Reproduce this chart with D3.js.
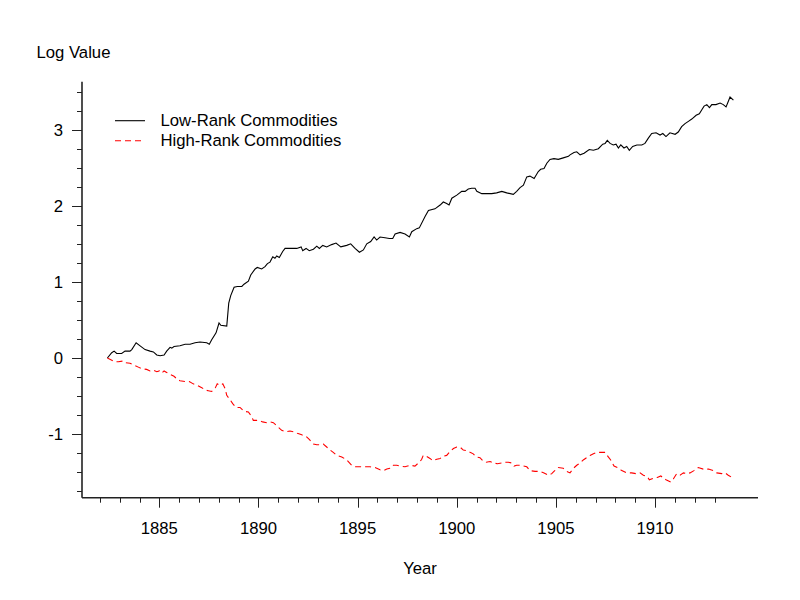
<!DOCTYPE html>
<html>
  <head>
    <meta charset="utf-8">
    <title>Low vs High rank commodities</title>
    <script src="https://d3js.org/d3.v7.min.js"></script>
    <style>
      body { margin: 0; background: #fff; }
      text { font-family: "Liberation Sans", Arial, sans-serif; font-size: 16.7px; fill: #000; }
    </style>
  </head>
  <body>
    <div id="chart"></div>

    <script type="text/javascript">
      // values (decimal year, log value)
      var lowYears = [1882.38,1882.60,1882.72,1882.85,1883.10,1883.27,1883.52,1883.61,1883.83,1884.03,1884.28,1884.53,1884.70,1884.87,1885.04,1885.24,1885.37,1885.54,1885.63,1885.74,1886.04,1886.30,1886.55,1886.80,1887.05,1887.39,1887.52,1887.64,1887.86,1888.01,1888.10,1888.40,1888.50,1888.60,1888.77,1888.93,1889.16,1889.27,1889.49,1889.61,1889.83,1889.94,1890.16,1890.33,1890.45,1890.58,1890.72,1890.83,1890.92,1891.05,1891.22,1891.34,1891.59,1891.93,1892.15,1892.23,1892.40,1892.56,1892.77,1892.94,1893.07,1893.24,1893.44,1893.69,1893.91,1894.15,1894.45,1894.65,1894.87,1895.09,1895.29,1895.46,1895.66,1895.83,1895.96,1896.13,1896.38,1896.60,1896.77,1896.89,1897.14,1897.39,1897.61,1897.73,1897.98,1898.11,1898.40,1898.57,1898.90,1899.16,1899.32,1899.49,1899.61,1899.75,1900.00,1900.25,1900.42,1900.58,1900.75,1900.92,1901.01,1901.26,1901.51,1901.76,1902.01,1902.27,1902.52,1902.85,1903.02,1903.19,1903.36,1903.53,1903.69,1903.90,1904.11,1904.23,1904.40,1904.54,1904.70,1904.90,1905.12,1905.37,1905.63,1905.71,1905.91,1906.05,1906.22,1906.42,1906.68,1906.89,1907.14,1907.36,1907.48,1907.59,1907.73,1907.89,1908.03,1908.15,1908.27,1908.43,1908.57,1908.70,1908.87,1909.08,1909.33,1909.49,1909.66,1909.83,1910.05,1910.25,1910.39,1910.55,1910.75,1911.01,1911.17,1911.34,1911.51,1911.68,1911.85,1912.07,1912.23,1912.35,1912.47,1912.61,1912.74,1912.86,1913.07,1913.28,1913.44,1913.58,1913.69,1913.78,1913.95];
      var lowValues = [0.00,0.07,0.09,0.06,0.06,0.09,0.09,0.11,0.20,0.16,0.11,0.09,0.08,0.04,0.03,0.04,0.09,0.14,0.13,0.15,0.16,0.18,0.18,0.20,0.21,0.20,0.18,0.24,0.33,0.46,0.43,0.42,0.72,0.82,0.93,0.94,0.94,0.97,1.01,1.09,1.17,1.19,1.17,1.20,1.24,1.26,1.33,1.31,1.34,1.32,1.40,1.44,1.44,1.44,1.46,1.41,1.44,1.41,1.43,1.47,1.44,1.48,1.46,1.49,1.51,1.46,1.48,1.50,1.44,1.39,1.42,1.50,1.53,1.59,1.55,1.59,1.58,1.57,1.57,1.63,1.65,1.63,1.59,1.66,1.70,1.71,1.86,1.94,1.96,2.01,2.05,2.03,2.01,2.10,2.14,2.19,2.19,2.22,2.23,2.23,2.19,2.16,2.16,2.16,2.17,2.19,2.17,2.15,2.19,2.24,2.27,2.38,2.39,2.36,2.45,2.48,2.49,2.56,2.61,2.62,2.61,2.63,2.65,2.67,2.70,2.71,2.67,2.69,2.74,2.73,2.75,2.81,2.82,2.86,2.82,2.80,2.81,2.76,2.80,2.76,2.78,2.73,2.78,2.80,2.80,2.82,2.89,2.95,2.96,2.93,2.95,2.91,2.96,2.94,2.97,3.04,3.08,3.11,3.14,3.19,3.21,3.26,3.31,3.33,3.29,3.33,3.33,3.35,3.33,3.30,3.37,3.43,3.39];

      var highYears = [1882.38,1882.77,1882.93,1883.18,1883.27,1883.52,1883.69,1883.94,1884.11,1884.36,1884.53,1884.70,1884.87,1885.00,1885.12,1885.24,1885.37,1885.57,1885.74,1885.91,1886.04,1886.30,1886.51,1886.71,1886.92,1887.14,1887.30,1887.47,1887.64,1887.81,1887.92,1888.06,1888.20,1888.31,1888.40,1888.57,1888.70,1888.87,1889.07,1889.27,1889.49,1889.66,1889.74,1889.99,1890.21,1890.42,1890.58,1890.75,1890.92,1891.17,1891.39,1891.59,1891.76,1891.96,1892.18,1892.40,1892.56,1892.77,1892.94,1893.10,1893.27,1893.44,1893.61,1893.77,1893.95,1894.20,1894.45,1894.70,1894.87,1895.12,1895.37,1895.63,1895.88,1896.13,1896.30,1896.47,1896.63,1896.80,1896.97,1897.14,1897.39,1897.64,1897.89,1898.15,1898.23,1898.31,1898.45,1898.65,1898.79,1898.99,1899.16,1899.32,1899.49,1899.66,1899.83,1900.00,1900.16,1900.33,1900.53,1900.67,1900.83,1900.97,1901.17,1901.31,1901.48,1901.68,1901.84,1902.05,1902.27,1902.43,1902.60,1902.77,1902.89,1903.02,1903.19,1903.36,1903.53,1903.69,1903.95,1904.20,1904.40,1904.62,1904.79,1904.90,1905.12,1905.37,1905.55,1905.71,1905.88,1906.05,1906.22,1906.38,1906.55,1906.72,1906.89,1907.06,1907.22,1907.48,1907.64,1907.76,1907.93,1908.10,1908.32,1908.57,1908.82,1909.04,1909.24,1909.41,1909.61,1909.71,1909.91,1910.11,1910.29,1910.42,1910.55,1910.79,1910.92,1911.09,1911.26,1911.43,1911.60,1911.76,1911.96,1912.18,1912.43,1912.69,1912.94,1913.11,1913.36,1913.53,1913.69,1913.87];
      var highValues = [0.00,-0.05,-0.05,-0.04,-0.06,-0.07,-0.09,-0.12,-0.14,-0.15,-0.17,-0.16,-0.18,-0.17,-0.20,-0.17,-0.19,-0.22,-0.24,-0.28,-0.30,-0.31,-0.31,-0.34,-0.36,-0.39,-0.42,-0.43,-0.44,-0.40,-0.34,-0.36,-0.34,-0.40,-0.49,-0.55,-0.60,-0.65,-0.65,-0.70,-0.71,-0.77,-0.82,-0.82,-0.84,-0.85,-0.84,-0.85,-0.89,-0.95,-0.97,-0.96,-0.97,-0.99,-1.01,-1.03,-1.07,-1.13,-1.14,-1.14,-1.13,-1.17,-1.21,-1.24,-1.28,-1.30,-1.34,-1.41,-1.43,-1.43,-1.43,-1.43,-1.44,-1.47,-1.48,-1.46,-1.45,-1.41,-1.41,-1.42,-1.43,-1.41,-1.42,-1.36,-1.33,-1.28,-1.29,-1.32,-1.35,-1.33,-1.32,-1.29,-1.28,-1.23,-1.19,-1.17,-1.17,-1.21,-1.22,-1.24,-1.26,-1.30,-1.31,-1.35,-1.37,-1.36,-1.38,-1.39,-1.38,-1.37,-1.37,-1.38,-1.42,-1.41,-1.41,-1.42,-1.43,-1.48,-1.49,-1.49,-1.51,-1.54,-1.52,-1.49,-1.44,-1.45,-1.49,-1.51,-1.45,-1.41,-1.38,-1.34,-1.31,-1.28,-1.26,-1.24,-1.24,-1.24,-1.30,-1.34,-1.42,-1.44,-1.48,-1.51,-1.51,-1.52,-1.51,-1.54,-1.56,-1.60,-1.58,-1.57,-1.55,-1.58,-1.60,-1.63,-1.59,-1.52,-1.54,-1.51,-1.52,-1.51,-1.48,-1.44,-1.46,-1.46,-1.48,-1.51,-1.52,-1.51,-1.54,-1.57];

      var seriesNames = ["Low-Rank Commodities", "High-Rank Commodities"];
      var xMajorTicks = [1885, 1890, 1895, 1900, 1905, 1910];
      var xMinorTicks = d3.range(1882, 1914);
      var yMajorTicks = [-1, 0, 1, 2, 3];
      var yMinorTicks = d3.range(-1.75, 3.51, 0.25);

      var width = 800,
          height = 600;

      var svg = d3.select('#chart').append('svg')
          .attr('width', width)
          .attr('height', height);

      var x = d3.scaleLinear().domain([1881.1, 1915.19]).range([82, 758]);
      var y = d3.scaleLinear().domain([-1.836, 3.631]).range([497.7, 81.7]);

      var axisColor = '#222';

      // x axis: minor ticks every year, longer ticks + labels every 5 years
      var xg = svg.append('g').attr('transform', 'translate(0,497.7)');
      xg.selectAll('.xtick').data(xMinorTicks).enter().append('line')
          .attr('x1', function(d) { return Math.round(x(d)) + 0.5; })
          .attr('x2', function(d) { return Math.round(x(d)) + 0.5; })
          .attr('y1', 0)
          .attr('y2', function(d) { return xMajorTicks.indexOf(d) >= 0 ? 10 : 5; })
          .attr('stroke', axisColor);
      xg.append('line').attr('x1', 82).attr('x2', 758)
          .attr('stroke', axisColor).attr('stroke-width', 1.6);
      xg.selectAll('.xlab').data(xMajorTicks).enter().append('text')
          .attr('x', function(d) { return x(d); })
          .attr('y', 36.5)
          .attr('text-anchor', 'middle')
          .text(function(d) { return d; });

      // y axis
      var yg = svg.append('g').attr('transform', 'translate(82,0)');
      yg.selectAll('.ytick').data(yMinorTicks).enter().append('line')
          .attr('y1', function(d) { return Math.round(y(d)) + 0.5; })
          .attr('y2', function(d) { return Math.round(y(d)) + 0.5; })
          .attr('x1', 0)
          .attr('x2', function(d) { return Math.abs(d - Math.round(d)) < 1e-6 ? -10 : -5; })
          .attr('stroke', axisColor);
      yg.append('line').attr('y1', 81.7).attr('y2', 497.7)
          .attr('stroke', axisColor).attr('stroke-width', 1.6);
      yg.selectAll('.ylab').data(yMajorTicks).enter().append('text')
          .attr('x', -19)
          .attr('y', function(d) { return y(d) + 6; })
          .attr('text-anchor', 'end')
          .text(function(d) { return d; });

      svg.append('text').attr('x', 36.5).attr('y', 58).text('Log Value');
      svg.append('text').attr('x', 420).attr('y', 574).attr('text-anchor', 'middle').text('Year');

      var line = d3.line()
          .x(function(d) { return x(d[0]); })
          .y(function(d) { return y(d[1]); });

      var lowData = d3.zip(lowYears, lowValues),
          highData = d3.zip(highYears, highValues);

      svg.append('path').datum(lowData)
          .attr('d', line)
          .attr('fill', 'none')
          .attr('stroke', '#000')
          .attr('stroke-width', 1.1);

      svg.append('path').datum(highData)
          .attr('d', line)
          .attr('fill', 'none')
          .attr('stroke', 'red')
          .attr('stroke-width', 1.1)
          .attr('stroke-dasharray', '6,4');

      // legend
      var legend = svg.append('g');
      var styles = [{stroke: '#000', dash: null}, {stroke: 'red', dash: '6,4'}];
      seriesNames.forEach(function(name, i) {
        var ly = 120.7 + i * 20;
        legend.append('line')
            .attr('x1', 115).attr('x2', 145)
            .attr('y1', ly).attr('y2', ly)
            .attr('stroke', styles[i].stroke)
            .attr('stroke-width', 1.1)
            .attr('stroke-dasharray', styles[i].dash);
        legend.append('text')
            .attr('x', 160.5).attr('y', ly + 5.5)
            .text(name);
      });
    </script>
  </body>
</html>
